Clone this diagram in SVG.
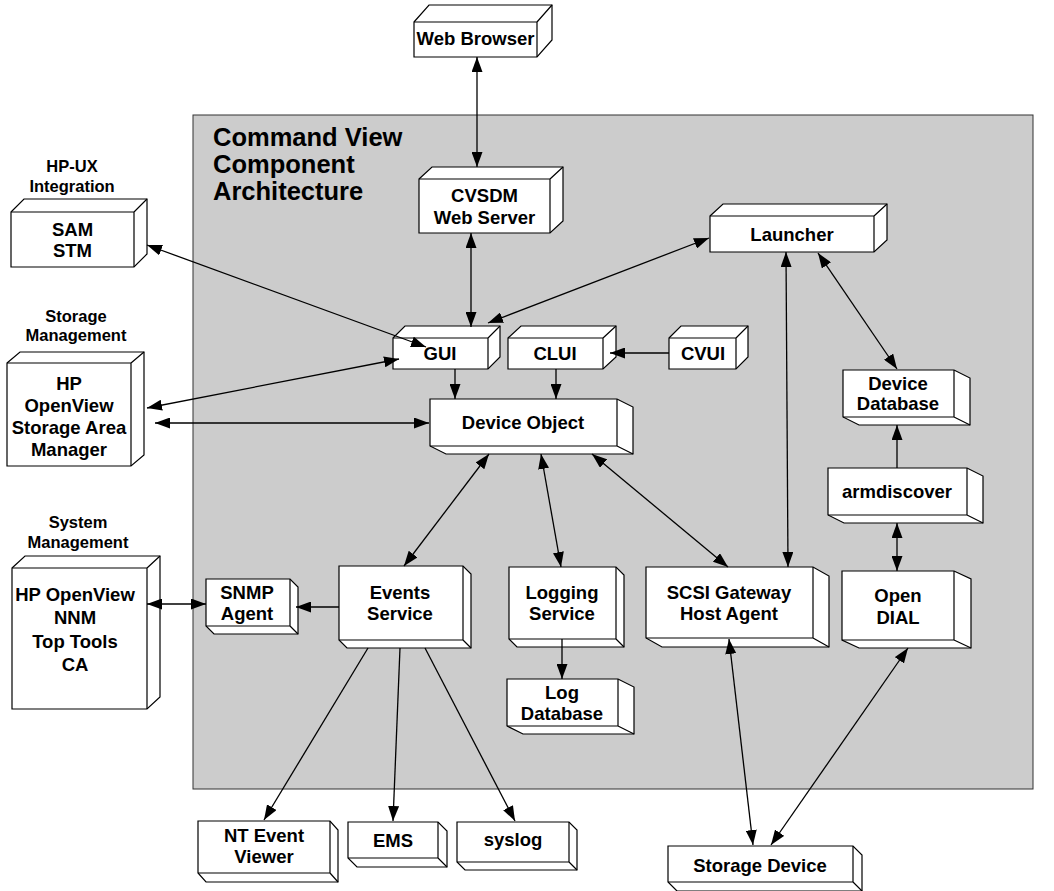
<svg xmlns="http://www.w3.org/2000/svg" width="1054" height="891" viewBox="0 0 1054 891">
<defs>
<marker id="ah" markerUnits="userSpaceOnUse" markerWidth="15" markerHeight="11" refX="15" refY="5.5" orient="auto-start-reverse" viewBox="0 0 15 11">
<path d="M0,0 L15,5.5 L0,11 Z" fill="#000"/>
</marker>
<style>
.bg{fill:#cccccc;stroke:#333;stroke-width:1}
.box{fill:#fff;stroke:#000;stroke-width:1.2;stroke-linejoin:miter}
.edge{fill:none;stroke:#000;stroke-width:1.2}
.t{font-family:"Liberation Sans",Arial,sans-serif;font-weight:bold;font-size:18.5px;text-anchor:middle;fill:#000}
.h{font-family:"Liberation Sans",Arial,sans-serif;font-weight:bold;font-size:16.5px;text-anchor:middle;fill:#000}
.title{font-family:"Liberation Sans",Arial,sans-serif;font-weight:bold;font-size:25.5px;fill:#000}
.c{fill:none;stroke:#000;stroke-width:1.3}
.b{marker-start:url(#ah);marker-end:url(#ah)}
.e{marker-end:url(#ah)}
</style>
</defs>
<rect class="bg" x="193" y="115" width="840" height="674"/>
<g id="title">
<text class="title" x="213" y="146">Command View</text>
<text class="title" x="213" y="173">Component</text>
<text class="title" x="213" y="200">Architecture</text>
</g>
<g id="headers">
<text class="h" x="72" y="172">HP-UX</text>
<text class="h" x="72" y="192">Integration</text>
<text class="h" x="76" y="322">Storage</text>
<text class="h" x="76" y="341">Management</text>
<text class="h" x="78" y="528">System</text>
<text class="h" x="78" y="548">Management</text>
</g>
<g id="web-browser">
<path class="box" d="M414,22 L429,5 H552 V40 L537,57 H414 Z"/>
<path class="edge" d="M414,22 H537 V57 M537,22 L552,5"/>
<text class="t" x="475.5" y="45">Web Browser</text>
</g>
<g id="cvsdm">
<path class="box" d="M419,179 L432,167 H563 V221 L550,233 H419 Z"/>
<path class="edge" d="M419,179 H550 V233 M550,179 L563,167"/>
<text class="t" x="484.5" y="201.5">CVSDM</text>
<text class="t" x="484.5" y="223.5">Web Server</text>
</g>
<g id="launcher">
<path class="box" d="M710,216 L723,204 H887 V240 L874,252 H710 Z"/>
<path class="edge" d="M710,216 H874 V252 M874,216 L887,204"/>
<text class="t" x="792" y="240.5">Launcher</text>
</g>
<g id="sam-stm">
<path class="box" d="M11,212 L24,199 H147 V254 L134,267 H11 Z"/>
<path class="edge" d="M11,212 H134 V267 M134,212 L147,199"/>
<text class="t" x="72.5" y="235.5">SAM</text>
<text class="t" x="72.5" y="256.5">STM</text>
</g>
<g id="hp-sam">
<path class="box" d="M7,363 L20,352 H144 V455 L131,466 H7 Z"/>
<path class="edge" d="M7,363 H131 V466 M131,363 L144,352"/>
<text class="t" x="69" y="389.5">HP</text>
<text class="t" x="69" y="411.5">OpenView</text>
<text class="t" x="69" y="433.5">Storage Area</text>
<text class="t" x="69" y="455.5">Manager</text>
</g>
<g id="hp-nnm">
<path class="box" d="M12,568 L25,556 H160 V697 L147,709 H12 Z"/>
<path class="edge" d="M12,568 H147 V709 M147,568 L160,556"/>
<text class="t" x="75" y="600.5">HP OpenView</text>
<text class="t" x="75" y="623.5">NNM</text>
<text class="t" x="75" y="647.5">Top Tools</text>
<text class="t" x="75" y="670.5">CA</text>
</g>
<g id="gui">
<path class="box" d="M393,338 L405,326 H500 V357 L488,369 H393 Z"/>
<path class="edge" d="M393,338 H488 V369 M488,338 L500,326"/>
<text class="t" x="440" y="359.5">GUI</text>
</g>
<g id="clui">
<path class="box" d="M508,338 L521,326 H616 V357 L603,369 H508 Z"/>
<path class="edge" d="M508,338 H603 V369 M603,338 L616,326"/>
<text class="t" x="555" y="359.5">CLUI</text>
</g>
<g id="cvui">
<path class="box" d="M669,338 L681,326 H748 V357 L736,369 H669 Z"/>
<path class="edge" d="M669,338 H736 V369 M736,338 L748,326"/>
<text class="t" x="703" y="359.5">CVUI</text>
</g>
<g id="device-object">
<path class="box" d="M430,399 H617 L633,407 V454 H446 L430,446 Z"/>
<path class="edge" d="M617,399 V446 H430 M617,446 L633,454"/>
<text class="t" x="523" y="428.5">Device Object</text>
</g>
<g id="device-database">
<path class="box" d="M843,370 H954 L970,378 V425 H859 L843,417 Z"/>
<path class="edge" d="M954,370 V417 H843 M954,417 L970,425"/>
<text class="t" x="898" y="389.5">Device</text>
<text class="t" x="898" y="409.5">Database</text>
</g>
<g id="armdiscover">
<path class="box" d="M828,468 H967 L983,476 V523 H844 L828,515 Z"/>
<path class="edge" d="M967,468 V515 H828 M967,515 L983,523"/>
<text class="t" x="897" y="497.5">armdiscover</text>
</g>
<g id="open-dial">
<path class="box" d="M842,571 H954 L971,579 V648 H859 L842,640 Z"/>
<path class="edge" d="M954,571 V640 H842 M954,640 L971,648"/>
<text class="t" x="898" y="601.5">Open</text>
<text class="t" x="898" y="623.5">DIAL</text>
</g>
<g id="snmp-agent">
<path class="box" d="M206,579 H290 L298,587 V634 H214 L206,626 Z"/>
<path class="edge" d="M290,579 V626 H206 M290,626 L298,634"/>
<text class="t" x="247" y="598.5">SNMP</text>
<text class="t" x="247" y="619.5">Agent</text>
</g>
<g id="events-service">
<path class="box" d="M339,566 H463 L471,574 V648 H347 L339,640 Z"/>
<path class="edge" d="M463,566 V640 H339 M463,640 L471,648"/>
<text class="t" x="400" y="598.5">Events</text>
<text class="t" x="400" y="619.5">Service</text>
</g>
<g id="logging-service">
<path class="box" d="M509,567 H616 L624,575 V647 H517 L509,639 Z"/>
<path class="edge" d="M616,567 V639 H509 M616,639 L624,647"/>
<text class="t" x="562" y="598.5">Logging</text>
<text class="t" x="562" y="619.5">Service</text>
</g>
<g id="scsi-gateway">
<path class="box" d="M646,567 H813 L829,576 V647 H662 L646,638 Z"/>
<path class="edge" d="M813,567 V638 H646 M813,638 L829,647"/>
<text class="t" x="729" y="598.5">SCSI Gateway</text>
<text class="t" x="729" y="619.5">Host Agent</text>
</g>
<g id="log-database">
<path class="box" d="M507,679 H618 L634,687 V734 H523 L507,726 Z"/>
<path class="edge" d="M618,679 V726 H507 M618,726 L634,734"/>
<text class="t" x="562" y="698.5">Log</text>
<text class="t" x="562" y="719.5">Database</text>
</g>
<g id="nt-event-viewer">
<path class="box" d="M198,821 H330 L338,830 V882 H206 L198,873 Z"/>
<path class="edge" d="M330,821 V873 H198 M330,873 L338,882"/>
<text class="t" x="264" y="841.5">NT Event</text>
<text class="t" x="264" y="862.5">Viewer</text>
</g>
<g id="ems">
<path class="box" d="M348,822 H438 L447,831 V867 H357 L348,858 Z"/>
<path class="edge" d="M438,822 V858 H348 M438,858 L447,867"/>
<text class="t" x="393" y="846.5">EMS</text>
</g>
<g id="syslog">
<path class="box" d="M457,822 H569 L577,830 V870 H465 L457,862 Z"/>
<path class="edge" d="M569,822 V862 H457 M569,862 L577,870"/>
<text class="t" x="513" y="846">syslog</text>
</g>
<g id="storage-device">
<path class="box" d="M668,846 H853 L862,855 V891 H677 L668,882 Z"/>
<path class="edge" d="M853,846 V882 H668 M853,882 L862,891"/>
<text class="t" x="760" y="871.5">Storage Device</text>
</g>
<g id="connectors">
<line class="c b" x1="477" y1="57" x2="477" y2="167"/>
<line class="c b" x1="471" y1="233" x2="471" y2="327"/>
<line class="c b" x1="488" y1="323" x2="709" y2="238"/>
<line class="c b" x1="147" y1="245" x2="426" y2="347"/>
<line class="c b" x1="399" y1="359" x2="147" y2="408"/>
<line class="c b" x1="155" y1="423" x2="429" y2="423"/>
<line class="c e" x1="455" y1="369" x2="455" y2="399"/>
<line class="c e" x1="556" y1="369" x2="556" y2="399"/>
<line class="c e" x1="669" y1="353" x2="610" y2="353"/>
<line class="c b" x1="786" y1="252" x2="788" y2="567"/>
<line class="c b" x1="818" y1="253" x2="897" y2="369"/>
<line class="c e" x1="897" y1="468" x2="897" y2="425"/>
<line class="c b" x1="897" y1="523" x2="897" y2="571"/>
<line class="c b" x1="489" y1="454" x2="404" y2="566"/>
<line class="c b" x1="541" y1="454" x2="561" y2="567"/>
<line class="c b" x1="592" y1="454" x2="728" y2="567"/>
<line class="c e" x1="339" y1="607" x2="296" y2="607"/>
<line class="c b" x1="206" y1="604" x2="147" y2="604"/>
<line class="c e" x1="562" y1="639" x2="562" y2="679"/>
<line class="c b" x1="729" y1="639" x2="753" y2="845"/>
<line class="c b" x1="908" y1="648" x2="771" y2="845"/>
<line class="c e" x1="368" y1="648" x2="264" y2="820"/>
<line class="c e" x1="400" y1="648" x2="393" y2="821"/>
<line class="c e" x1="425" y1="648" x2="515" y2="821"/>
</g>
</svg>
